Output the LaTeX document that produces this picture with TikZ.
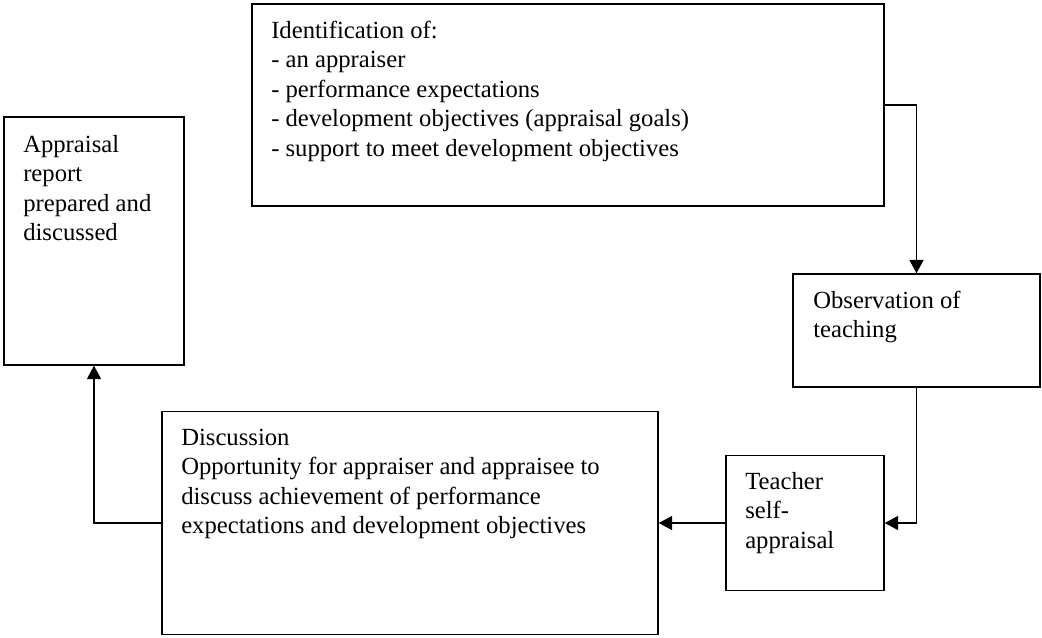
\documentclass[tikz,border=0pt]{standalone}
\usepackage{fontspec}
\setmainfont{Liberation Serif}
\usetikzlibrary{arrows.meta}

% lines of a box's text, aligned on the first baseline
\newcommand\boxlines[1]{\begin{tabular}[t]{@{}l@{}}#1\end{tabular}}

\tikzset{
  stagebox/.style={draw, line width=1.1pt, inner sep=0pt},
  stagetext/.style={anchor=base west, inner sep=0pt,
    font=\fontsize{18.5pt}{22.2pt}\selectfont},
  flow/.style={line width=1.1pt, -{Triangle[length=10pt,width=10.5pt]}},
}

\begin{document}
\begin{tikzpicture}[x=0.75pt, y=-0.75pt]
\useasboundingbox (0,0) rectangle (1042,637);

% stage boxes
\node[stagebox, minimum width=474pt,    minimum height=151.5pt]  (ident)  at (568,105)   {};
\node[stagebox, minimum width=185.25pt, minimum height=84.75pt]  (obs)    at (916.5,330.5) {};
\node[stagebox, minimum width=118.5pt,  minimum height=101.25pt] (self)   at (805,523) {};
\node[stagebox, minimum width=372pt,    minimum height=167.25pt] (disc)   at (410,523) {};
\node[stagebox, minimum width=135pt,    minimum height=186pt]    (report) at (94,241)    {};

% texts
\node[stagetext] (identtext) at (271,38) {\boxlines{Identification of:\\
  - an appraiser\\
  - performance expectations\\
  - development objectives (appraisal goals)\\
  - support to meet development objectives}};
\node[stagetext] (obstext) at (813,308) {\boxlines{Observation of\\ teaching}};
\node[stagetext] (selftext) at (745,489) {\boxlines{Teacher\\ self-\\ appraisal}};
\node[stagetext] (disctext) at (181,445) {\boxlines{Discussion\\
  Opportunity for appraiser and appraisee to\\
  discuss achievement of performance\\
  expectations and development objectives}};
\node[stagetext] (reporttext) at (23,152) {\boxlines{Appraisal\\ report\\ prepared and\\ discussed}};

% connectors
\draw[flow] (ident.east) -| (obs.north);
\draw[flow] (obs.south) |- (self.east);
\draw[flow] (self.west) -- (disc.east);
\draw[flow] (disc.west) -| (report.south);
\end{tikzpicture}
\end{document}
